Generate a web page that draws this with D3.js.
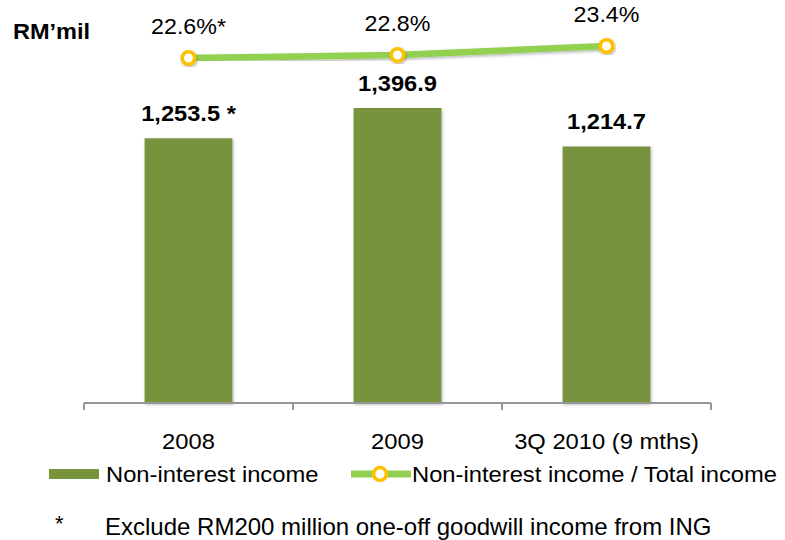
<!DOCTYPE html>
<html>
<head>
<meta charset="utf-8">
<script src="https://cdn.jsdelivr.net/npm/d3@7"></script>
<style>
  body { margin: 0; background: #fff; }
  svg { display: block; font-family: "Liberation Sans", Arial, sans-serif; }
</style>
</head>
<body>
<svg id="chart" width="785" height="540"></svg>
<script>
// Data
const categories = ["2008", "2009", "3Q 2010 (9 mths)"];
const incomeValues = [1253.5, 1396.9, 1214.7];
const incomeLabels = ["1,253.5 *", "1,396.9", "1,214.7"];
const ratioValues = [22.6, 22.8, 23.4];
const ratioLabels = ["22.6%*", "22.8%", "23.4%"];
const seriesNames = ["Non-interest income", "Non-interest income / Total income"];
const unitLabel = "RM\u2019mil";
const footnote = "Exclude RM200 million one-off goodwill income from ING";

const barColor = "#77933C";
const lineColor = "#92D050";
const markerColor = "#FFC000";
const axisColor = "#969696";

const svg = d3.select("#chart");

const defs = svg.append("defs");
const shadow = defs.append("filter").attr("id", "shadow")
  .attr("x", "-20%").attr("y", "-20%").attr("width", "140%").attr("height", "140%");
shadow.append("feDropShadow").attr("dx", 1).attr("dy", 1.5).attr("stdDeviation", 1.5)
  .attr("flood-color", "#000").attr("flood-opacity", 0.3);

// Text helper with a slight horizontal stretch
function label(g, x, y, txt, opts = {}) {
  return g.append("text")
    .attr("transform", `translate(${x},${y}) scale(${opts.sx || 1},1)`)
    .attr("text-anchor", opts.anchor || "start")
    .attr("font-size", opts.size || 22)
    .attr("font-weight", opts.weight || "normal")
    .attr("fill", "#000")
    .text(txt);
}

const x0 = 84, x1 = 711, base = 403;
const xc = d3.scalePoint().domain(categories).range([x0, x1]).padding(0.5);
const barW = xc.step() * 0.42;
const y = d3.scaleLinear().domain([0, 1396.9]).range([base, 108]);
const yr = d3.scaleLinear().domain([22.6, 23.4]).range([58, 46]);

// Bars
svg.append("g").selectAll("rect").data(categories).join("rect")
  .attr("x", d => xc(d) - barW / 2)
  .attr("width", barW)
  .attr("y", (d, i) => y(incomeValues[i]))
  .attr("height", (d, i) => y(0) - y(incomeValues[i]))
  .attr("fill", barColor)
  .attr("filter", "url(#shadow)");

// Bar value labels
const barLabels = svg.append("g");
categories.forEach((c, i) => {
  label(barLabels, xc(c), y(incomeValues[i]) - 17, incomeLabels[i],
    { anchor: "middle", size: 21.5, weight: "bold", sx: 1.1 });
});

// Category axis
const axisG = svg.append("g").attr("transform", `translate(0,${base})`);
axisG.append("line").attr("x1", x0).attr("x2", x1).attr("stroke", axisColor).attr("stroke-width", 2);
const bounds = [x0].concat(categories.map(c => xc(c) + xc.step() / 2));
axisG.selectAll(".tick").data(bounds).join("line")
  .attr("x1", d => d).attr("x2", d => d).attr("y1", 0).attr("y2", 7)
  .attr("stroke", axisColor).attr("stroke-width", 2);
categories.forEach(c => {
  label(axisG, xc(c), 46, c, { anchor: "middle", size: 22, sx: 1.08 });
});

// Ratio line
const line = d3.line().x((d, i) => xc(categories[i])).y(d => yr(d));
svg.append("path").datum(ratioValues)
  .attr("d", line).attr("fill", "none")
  .attr("stroke", lineColor).attr("stroke-width", 6.5)
  .attr("filter", "url(#shadow)");
svg.append("g").selectAll("circle").data(ratioValues).join("circle")
  .attr("cx", (d, i) => xc(categories[i])).attr("cy", d => yr(d))
  .attr("r", 6.3).attr("fill", "#fff")
  .attr("stroke", markerColor).attr("stroke-width", 3.6)
  .attr("filter", "url(#shadow)");
const ratioG = svg.append("g");
ratioValues.forEach((v, i) => {
  label(ratioG, xc(categories[i]), yr(v) - 24, ratioLabels[i],
    { anchor: "middle", size: 21.5, sx: 1.08 });
});

// Unit label
label(svg, 13, 39, unitLabel, { size: 22, weight: "bold", sx: 1.07 });

// Legend
const lg = svg.append("g").attr("transform", "translate(0,474)");
lg.append("rect").attr("x", 49).attr("y", -5).attr("width", 50).attr("height", 10).attr("fill", barColor);
label(lg, 106, 8, seriesNames[0], { size: 22, sx: 1.08 });
lg.append("line").attr("x1", 351).attr("x2", 411).attr("y1", 0).attr("y2", 0)
  .attr("stroke", lineColor).attr("stroke-width", 7);
lg.append("circle").attr("cx", 380).attr("cy", 0).attr("r", 6.5)
  .attr("fill", "#fff").attr("stroke", markerColor).attr("stroke-width", 3.6);
label(lg, 412, 8, seriesNames[1], { size: 22, sx: 1.08 });

// Footnote
label(svg, 55, 531, "*", { size: 22 });
label(svg, 105, 535, footnote, { size: 24 });
</script>
</body>
</html>
